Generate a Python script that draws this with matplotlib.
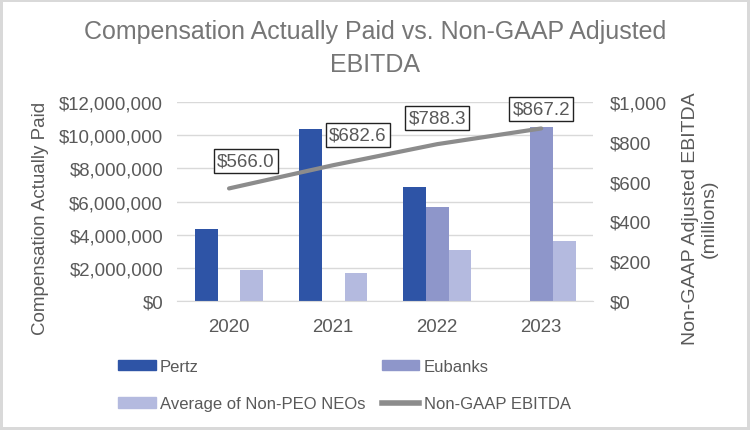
import numpy as np
import matplotlib
matplotlib.use("Agg")
import matplotlib.pyplot as plt
from matplotlib.patches import Patch
from matplotlib.lines import Line2D

plt.rcParams['font.family'] = ['Liberation Sans', 'DejaVu Sans']

years = ["2020", "2021", "2022", "2023"]
pertz = [4.37e6, 10.35e6, 6.90e6, np.nan]
eubanks = [np.nan, np.nan, 5.69e6, 10.49e6]
non_peo = [1.88e6, 1.69e6, 3.09e6, 3.65e6]
ebitda = [566.0, 682.6, 788.3, 867.2]
left_ticks = [0, 2e6, 4e6, 6e6, 8e6, 10e6, 12e6]
right_ticks = [0, 200, 400, 600, 800, 1000]

c_pertz = "#2e54a6"
c_eub = "#8e96ca"
c_non = "#b4badf"
c_line = "#8c8c8c"
txt = "#595959"

fig = plt.figure(figsize=(7.5, 4.31), dpi=100)
fig.patch.set_edgecolor("#d9d9d9")
fig.patch.set_linewidth(3)
ax = fig.add_axes([0.236, 0.299, 0.555, 0.462])
ax2 = ax.twinx()

x = np.arange(len(years))
w = 0.22
ax.bar(x - w, pertz, w, color=c_pertz, label="Pertz", zorder=2)
ax.bar(x, eubanks, w, color=c_eub, label="Eubanks", zorder=2)
ax.bar(x + w, non_peo, w, color=c_non, label="Average of Non-PEO NEOs", zorder=2)

ax.set_xlim(-0.5, len(years) - 0.5)
ax.set_ylim(0, 12e6)
ax.set_yticks(left_ticks)
ax.set_yticklabels(["${:,.0f}".format(v) for v in left_ticks])
ax.set_xticks(x)
ax.set_xticklabels(years)
ax.grid(axis="y", color="#d9d9d9", linewidth=1, zorder=0)
ax.set_axisbelow(True)
for s in ["top", "left", "right"]:
    ax.spines[s].set_visible(False)
ax.spines["bottom"].set_color("#d9d9d9")
ax.tick_params(length=0, labelsize=13.4, colors=txt)
ax.tick_params(axis="x", pad=12)
ax.tick_params(axis="y", pad=10)

ax2.plot(x, ebitda, color=c_line, linewidth=3, solid_capstyle="round", label="Non-GAAP EBITDA")
ax2.set_ylim(0, 1000)
ax2.set_yticks(right_ticks)
ax2.set_yticklabels(["${:,.0f}".format(v) for v in right_ticks])
for s in ax2.spines.values():
    s.set_visible(False)
ax2.tick_params(length=0, labelsize=13.4, colors=txt, pad=12)

fig.text(41 / 750, 1 - 218 / 431, "Compensation Actually Paid", rotation=90,
         ha="center", va="center", fontsize=13.5, color=txt)
fig.text(700 / 750, 1 - 219 / 431, "Non-GAAP Adjusted EBITDA\n(millions)", rotation=90,
         ha="center", va="center", fontsize=14, color=txt, multialignment="center",
         linespacing=1.15)

# label offsets (points) as placed in the original
offsets = [(12, 20), (18, 22), (0, 19), (0, 14)]
for xi, v, off in zip(x, ebitda, offsets):
    ax2.annotate("${:.1f}".format(v), (xi, v), xytext=off, textcoords="offset points",
                 ha="center", va="center", fontsize=13.5, color=txt,
                 bbox=dict(boxstyle="square,pad=0.18", fc="white", ec="#222222", lw=1))

fig.suptitle("Compensation Actually Paid vs. Non-GAAP Adjusted\nEBITDA",
             fontsize=18, color="#767676", y=0.953, linespacing=1.45)

handles = [Patch(color=c_pertz), Patch(color=c_non), Patch(color=c_eub),
           Line2D([], [], color=c_line, linewidth=4)]
labels = ["Pertz", "Average of Non-PEO NEOs", "Eubanks", "Non-GAAP EBITDA"]
fig.legend(handles, labels, ncol=2, loc="upper left",
           bbox_to_anchor=(118 / 750, 1 - 360 / 431), frameon=False,
           fontsize=12, labelcolor=txt, handlelength=2.25, handleheight=0.6,
           handletextpad=0.25, labelspacing=1.35, columnspacing=1.0,
           borderaxespad=0, borderpad=0)

fig.savefig("out.png", dpi=100)
